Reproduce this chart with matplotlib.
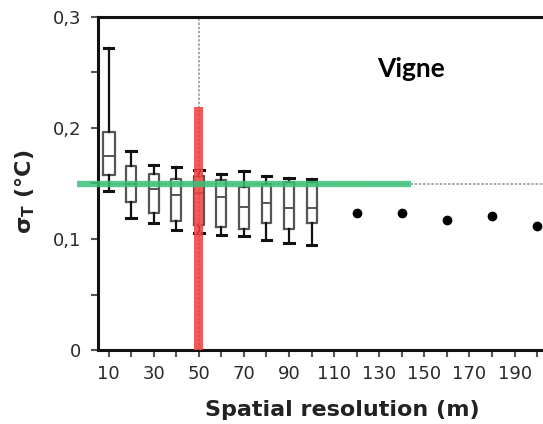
import matplotlib
matplotlib.use("Agg")
import matplotlib.pyplot as plt
from matplotlib.ticker import MultipleLocator, FuncFormatter


# ==========================
# Data
# ==========================
resolutions = [10, 20, 30, 40, 50, 60, 70, 80, 90, 100]
whisk_low = [0.143, 0.119, 0.114, 0.108, 0.105, 0.104, 0.103, 0.099, 0.096, 0.095]
q1 = [0.158, 0.133, 0.123, 0.116, 0.113, 0.111, 0.109, 0.114, 0.109, 0.114]
median = [0.175, 0.150, 0.145, 0.140, 0.141, 0.138, 0.129, 0.132, 0.128, 0.128]
q3 = [0.196, 0.166, 0.159, 0.154, 0.157, 0.153, 0.147, 0.150, 0.151, 0.151]
whisk_high = [0.272, 0.179, 0.167, 0.165, 0.162, 0.159, 0.161, 0.157, 0.155, 0.154]

coarse_res = [120, 140, 160, 180, 200]
coarse_sigma = [0.123, 0.123, 0.117, 0.121, 0.112]

threshold = 0.15          # green line
chosen_res = 50           # red bar
chosen_top = 0.219
green_span = [-4, 144]

x_labels = [10, 30, 50, 70, 90, 110, 130, 150, 170, 190]
x_minor = [20, 40, 60, 80, 100, 120, 140, 160, 180, 200]

W, H = 543, 424


def comma(v, pos):
    if v == 0:
        return "0"
    return ("%.1f" % v).replace(".", ",")


fig = plt.figure(figsize=(W / 100, H / 100), dpi=100)
ax = fig.add_axes([98 / W, 1 - 350 / H, 1 - 98 / W, (350 - 17) / H])

# reference lines
ax.axvline(chosen_res, color="#9a9a9a", lw=1.2, ls=(0, (1.5, 1)), zorder=1)
ax.axhline(threshold, color="#9a9a9a", lw=1.2, ls=(0, (1.5, 1)), zorder=1)

# boxplots
stats = []
for i in range(len(resolutions)):
    stats.append({"whislo": whisk_low[i], "q1": q1[i], "med": median[i],
                  "q3": q3[i], "whishi": whisk_high[i], "fliers": []})
widths = [5.3] + [4.4] * (len(resolutions) - 1)
ax.bxp(stats, positions=resolutions, widths=widths, showfliers=False,
       patch_artist=False, manage_ticks=False,
       boxprops=dict(color="#555555", lw=1.6),
       medianprops=dict(color="#555555", lw=1.4),
       whiskerprops=dict(color="#111111", lw=1.6),
       capprops=dict(color="#111111", lw=2.2),
       capwidths=4.2, zorder=3)

# coarse-resolution points
ax.plot(coarse_res, coarse_sigma, "o", color="black", ms=6, zorder=3,
        clip_on=False)

# highlighted choices
ax.bar(chosen_res, chosen_top, width=4.1, color="#f03c3c", alpha=0.85,
       hatch="....", edgecolor="#f06060", lw=0, zorder=4)
ax.plot(green_span, [threshold, threshold], color="#3cbf78", alpha=0.85,
        lw=4.6, solid_capstyle="butt", clip_on=False, zorder=5)

ax.text(144, 0.2455, "Vigne", fontsize=19, fontweight="bold",
        family="Lato", ha="center", va="baseline")

# axes styling
ax.set_xlim(5.3, 202.6)
ax.set_ylim(0, 0.3)
for side in ["left", "bottom", "top"]:
    ax.spines[side].set_linewidth(2.2)
    ax.spines[side].set_color("#111111")
ax.spines["right"].set_visible(False)

ax.set_xticks(x_labels)
ax.xaxis.set_minor_locator(plt.FixedLocator(x_minor))
ax.yaxis.set_major_locator(MultipleLocator(0.1))
ax.yaxis.set_minor_locator(MultipleLocator(0.05))
ax.yaxis.set_major_formatter(FuncFormatter(comma))
ax.tick_params(which="both", direction="out", length=5, width=1.5,
               color="#555555")
ax.tick_params(axis="x", which="major", pad=6, labelsize=13,
               labelcolor="#2a2a2a")
ax.tick_params(axis="y", which="major", pad=7, labelsize=13,
               labelcolor="#2a2a2a")
for lab in ax.get_xticklabels() + ax.get_yticklabels():
    lab.set_family("DejaVu Sans")

ax.set_xlabel("Spatial resolution (m)", fontsize=16, fontweight="bold",
              family="DejaVu Sans", color="#222222")
ax.set_ylabel(r"$\mathbf{\sigma_T}$ (°C)", fontsize=16, fontweight="bold",
              family="DejaVu Sans", color="#222222")
ax.xaxis.set_label_coords(0.548, -0.15)
ax.yaxis.set_label_coords(-0.137, 0.474)

fig.savefig("out.png", dpi=100)
